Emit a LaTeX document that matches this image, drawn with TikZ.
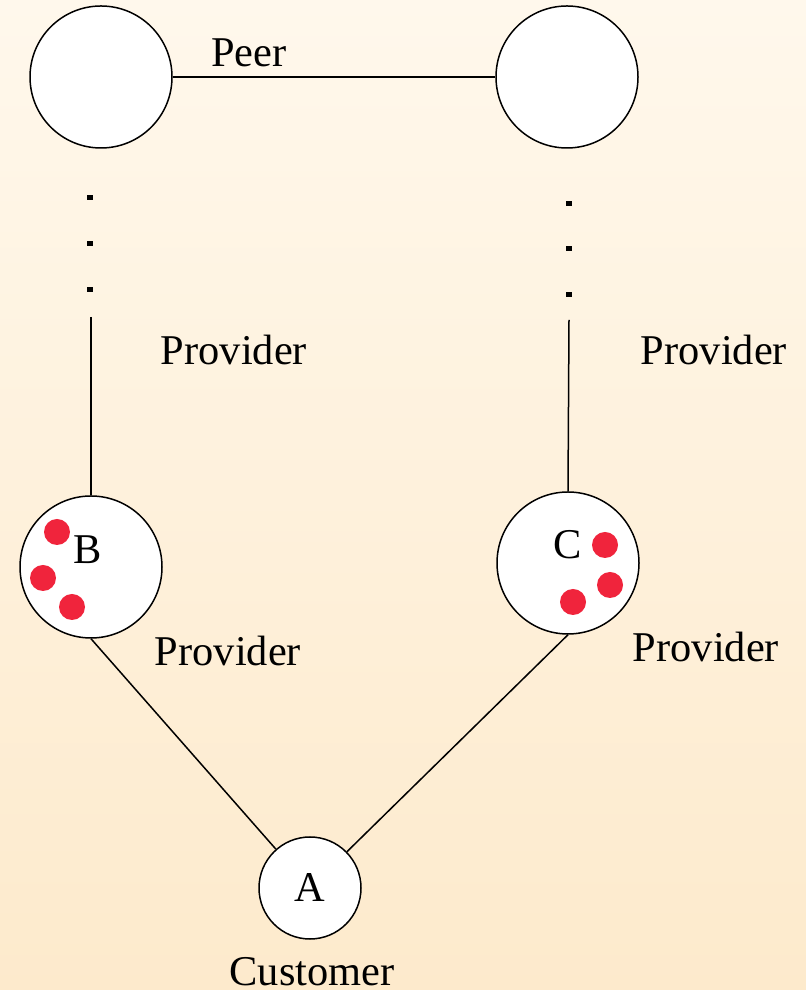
\documentclass[tikz,border=0pt]{standalone}
\usepackage{fontspec}
\setmainfont{Liberation Serif}
\usepackage{tikz}
\definecolor{bgtop}{RGB}{255,248,236}
\definecolor{bgbottom}{RGB}{253,234,204}
\definecolor{tokenred}{RGB}{240,36,60}
\tikzset{
  asnode/.style={circle, draw, fill=white, line width=0.75pt, inner sep=0pt},
  bigas/.style={asnode, minimum size=71pt},
  smallas/.style={asnode, minimum size=51pt},
  lbl/.style={inner sep=0pt, font=\fontsize{21.2}{25}\selectfont},
  token/.style={fill=tokenred},
}
\begin{document}
\begin{tikzpicture}[x=0.5pt, y=0.5pt, line width=0.75pt]
\useasboundingbox (0,0) rectangle (806,990);
\clip (0,0) rectangle (806,990);
\shade[top color=bgtop, bottom color=bgbottom] (0,0) rectangle (806,990);
% tier-1 peers
\node[bigas] (np) at (101,913) {};
\node[bigas] (nq) at (567,913) {};
\draw (np.east) -- (nq.west);
\node[lbl] at (249,937) {Peer};
% dotted gaps down the hierarchy
\foreach \y in {792,746,700}
    \fill (87,\y-2.5) rectangle (93,\y+2.5);
\foreach \y in {786,741,695}
    \fill (566,\y-2.5) rectangle (572,\y+2.5);
% providers B and C
\node[bigas] (nb) at (91,423) {};
\node[bigas] (nc) at (568,427) {};
\node[lbl] at (88,440) {B};
\node[lbl] at (568,445) {C};
\fill[token] (57,458) circle (13);
\fill[token] (43,412) circle (13);
\fill[token] (72,383) circle (13);
\fill[token] (605,445) circle (13);
\fill[token] (610,405) circle (13);
\fill[token] (573,388) circle (13);
\coordinate (lefttop) at (91,673);
\coordinate (righttop) at (569,670);
\draw (lefttop) -- (nb.north);
\draw (righttop) -- (nc.north);
\node[lbl] at (234,640) {Provider};
\node[lbl] at (714,640) {Provider};
% customer A
\node[smallas, lbl] (na) at (310,102) {A};
\draw (nb.south) -- (na);
\draw (nc.south) -- (na);
\node[lbl] at (228,339) {Provider};
\node[lbl] at (706,343) {Provider};
\node[lbl] at (312,18) {Customer};
\end{tikzpicture}
\end{document}
